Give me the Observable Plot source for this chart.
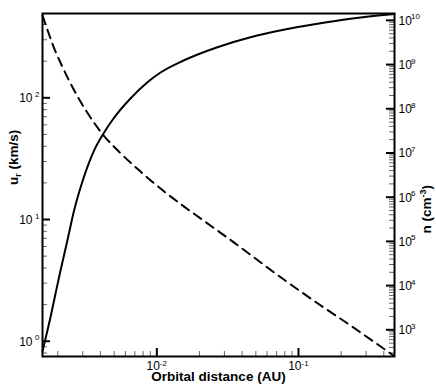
<!DOCTYPE html>
<html>
<head>
<meta charset="utf-8">
<script src="https://cdn.jsdelivr.net/npm/d3@7"></script>
<script src="https://cdn.jsdelivr.net/npm/@observablehq/plot@0.6"></script>
<style>
  html, body { margin: 0; padding: 0; background: #fff; }
</style>
</head>
<body>
<div id="chart"></div>
<script>
// ---- scale extents ----
const xDomain = [0.00156, 0.476];      // orbital distance (AU)
const uDomain = [0.749, 493];          // u_r (km/s), left axis
const nDomain = [249, 1.43e10];        // n (cm^-3), right axis

// ---- solid curve: radial velocity u_r ----
const auU = [0.00156, 0.001778, 0.001928, 0.002091, 0.002333, 0.002597, 0.002895, 0.003228, 0.003592, 0.004206,
             0.004947, 0.006516, 0.008552, 0.01062, 0.01542, 0.02677, 0.04581, 0.07839, 0.1361, 0.2328, 0.4753];
const uR  = [0.831, 1.584, 2.466, 3.81, 6.66, 11.64, 18.3, 26.8, 36.5, 50.9,
             67.6, 98.7, 133.6, 161.4, 202.5, 260.6, 314.8, 362.2, 405.7, 445.8, 488];

// ---- dashed curve: number density n ----
const auN = [0.00156, 0.001693, 0.001836, 0.002160, 0.002597, 0.003228, 0.004206, 0.005543, 0.007674, 0.01062,
             0.01470, 0.02034, 0.03495, 0.07877, 0.1355, 0.2328, 0.4680];
const nDensity = [1.29e10, 6.04e9, 2.91e9, 8.77e8, 2.70e8, 8.24e7, 2.51e7, 9.89e6, 3.79e6, 1.57e6,
                  7.02e5, 3.31e5, 9.49e4, 1.37e4, 4.04e3, 1.25e3, 262];

// ---- tick labels ----
const xMajor = [0.01, 0.1];
const xMajorExp = ["-2", "-1"];
const uMajor = [1, 10, 100];
const uMajorExp = ["0", "1", "2"];
const nMajor = [1e3, 1e4, 1e5, 1e6, 1e7, 1e8, 1e9, 1e10];
const nMajorExp = ["3", "4", "5", "6", "7", "8", "9", "10"];

const xTitle = "Orbital distance (AU)";
const uTitle = "u_r (km/s)";
const nTitle = "n (cm^-3)";

// map n onto the left (u) log scale so both share one y scale
const lu0 = Math.log10(uDomain[0]), lu1 = Math.log10(uDomain[1]);
const ln0 = Math.log10(nDomain[0]), ln1 = Math.log10(nDomain[1]);
const nToU = n => Math.pow(10, lu0 + (Math.log10(n) - ln0) * (lu1 - lu0) / (ln1 - ln0));

function minors(domain) {
  const out = [];
  for (let e = Math.floor(Math.log10(domain[0])); e <= Math.ceil(Math.log10(domain[1])); e++) {
    for (let k = 2; k <= 9; k++) {
      const v = k * Math.pow(10, e);
      if (v > domain[0] && v < domain[1]) out.push(v);
    }
  }
  return out;
}

const uSeries = auU.map((x, i) => ({x, y: uR[i]}));
const nSeries = auN.map((x, i) => ({x, y: nToU(nDensity[i])}));

const W = 436, H = 388, mL = 42, mR = 42, mT = 13, mB = 32;
const fw = W - mL - mR, fh = H - mT - mB;
const majLen = 8, minLen = 5;
const font = "'Liberation Sans', Arial, Helvetica, sans-serif";

const nMajorU = nMajor.map(nToU);
const nMinorU = minors(nDomain).map(nToU);

const svg = Plot.plot({
  width: W, height: H,
  marginLeft: mL, marginRight: mR, marginTop: mT, marginBottom: mB,
  x: {type: "log", domain: xDomain, axis: null},
  y: {type: "log", domain: uDomain, axis: null},
  style: {background: "white", color: "black", fontFamily: font, fontSize: "12px"},
  marks: [
    // minor ticks (inward)
    Plot.tickY(minors(uDomain), {y: d => d, insetRight: fw - minLen, stroke: "#666", strokeWidth: 1}),
    Plot.tickY(nMinorU, {y: d => d, insetLeft: fw - minLen, stroke: "#666", strokeWidth: 1}),
    Plot.tickX(minors(xDomain), {x: d => d, insetTop: fh - minLen, stroke: "#666", strokeWidth: 1}),
    // major ticks
    Plot.tickY(uMajor, {y: d => d, insetRight: fw - majLen, stroke: "black", strokeWidth: 2}),
    Plot.tickY(nMajorU, {y: d => d, insetLeft: fw - majLen, stroke: "black", strokeWidth: 2}),
    Plot.tickX(xMajor, {x: d => d, insetTop: fh - majLen, stroke: "black", strokeWidth: 2}),
    // curves
    Plot.line(uSeries, {x: "x", y: "y", stroke: "black", strokeWidth: 2, curve: "monotone-x"}),
    Plot.line(nSeries, {x: "x", y: "y", stroke: "black", strokeWidth: 2, strokeDasharray: "9,6", curve: "monotone-x"}),
    Plot.frame({stroke: "black", strokeWidth: 2}),
    // left tick labels
    Plot.text(uMajor, {y: d => d, frameAnchor: "left", text: () => "10", textAnchor: "end", dx: -10, dy: 0.5, fontSize: 12, fill: "black"}),
    Plot.text(uMajor, {y: d => d, frameAnchor: "left", text: (d, i) => uMajorExp[i], textAnchor: "end", dx: -3, dy: -3.5, fontSize: 8, fill: "black"}),
    // right tick labels
    Plot.text(nMajorU, {y: d => d, frameAnchor: "right", text: () => "10", textAnchor: "start", dx: 4, dy: 0.5, fontSize: 12, fill: "black"}),
    Plot.text(nMajorU, {y: d => d, frameAnchor: "right", text: (d, i) => nMajorExp[i], textAnchor: "start", dx: 16.5, dy: -3.5, fontSize: 8, fill: "black"}),
    // bottom tick labels
    Plot.text(xMajor, {x: d => d, frameAnchor: "bottom", text: () => "10", textAnchor: "end", dx: 3, dy: 13.5, fontSize: 12, fill: "black"}),
    Plot.text(xMajor, {x: d => d, frameAnchor: "bottom", text: (d, i) => xMajorExp[i], textAnchor: "start", dx: 3, dy: 9.5, fontSize: 8, fill: "black"}),
    // axis titles
    Plot.text([xTitle], {frameAnchor: "bottom", text: d => d, dy: 24.5, fontSize: 13.5, fontWeight: "bold", fill: "black"}),
    Plot.text([uTitle], {frameAnchor: "left", text: d => d, rotate: -90, dx: -28.5, fontSize: 13.5, fontWeight: "bold", fill: "black"}),
    Plot.text([nTitle], {frameAnchor: "right", text: d => d, rotate: -90, dx: 32, fontSize: 13.5, fontWeight: "bold", fill: "black"})
  ]
});

// rich-text (sub/superscript) for the two y titles
function richTitle(node, parts) {
  const t = d3.select(node);
  t.text("");
  parts.forEach(p => {
    const s = t.append("tspan").text(p.text);
    if (p.size) s.attr("font-size", p.size);
    if (p.dy) s.attr("dy", p.dy);
  });
}
d3.select(svg).selectAll("text").each(function () {
  if (this.textContent === uTitle) {
    richTitle(this, [{text: "u"}, {text: "r", size: 9, dy: 3}, {text: " (km/s)", dy: -3}]);
  } else if (this.textContent === nTitle) {
    richTitle(this, [{text: "n (cm"}, {text: "-3", size: 9, dy: -5}, {text: ")", dy: 5}]);
  }
});

document.getElementById("chart").appendChild(svg);
</script>
</body>
</html>
